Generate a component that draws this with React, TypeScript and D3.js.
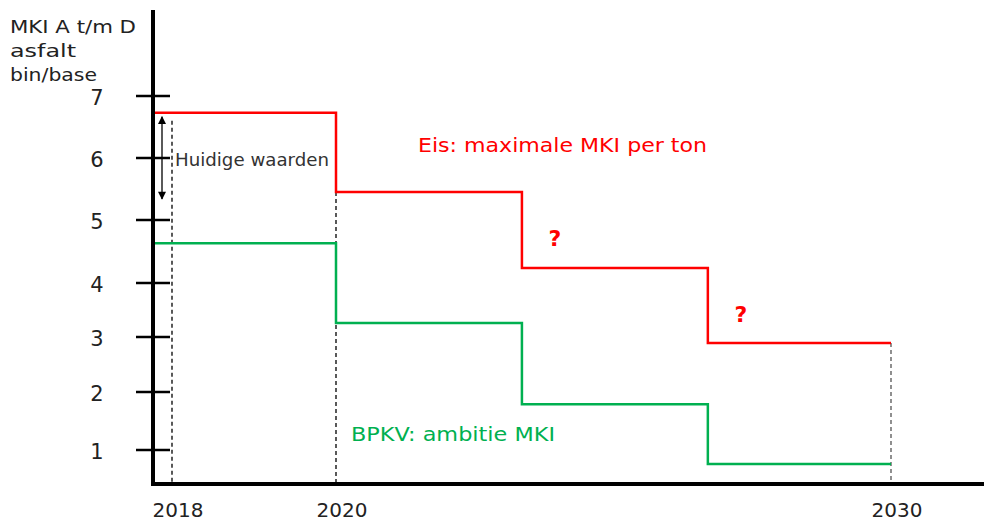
import React, { useEffect, useRef } from 'react';
import * as d3 from 'd3';

// y axis ticks and the (uneven) pixel spacing of the original drawing
const yTicks = [1, 2, 3, 4, 5, 6, 7];
const yTickPixels = [450, 392, 337, 283, 220, 158, 96];

// x axis labels and their positions in the drawing
const xLabels = [2018, 2020, 2030];
const xLabelPixels = [172, 336, 891];

// step lines (value holds from year until the next year)
const stepYears = [2017.77, 2020, 2023.35, 2026.7, 2030];
const eisValues = [6.73, 5.45, 4.24, 2.89, 2.89];
const ambitieValues = [4.63, 3.26, 1.79, 0.76, 0.76];

const FONT = '"DejaVu Sans", Verdana, sans-serif';

const App = () => {
  const svgRef = useRef<SVGSVGElement>(null);

  useEffect(() => {
    const width = 984;
    const height = 522;
    const axisX = 153;
    const axisY = 484;

    const svg = d3.select(svgRef.current);
    svg.selectAll('*').remove();
    svg.attr('width', width).attr('height', height);

    const x = d3.scaleLinear().domain(xLabels).range(xLabelPixels);
    const y = d3.scaleLinear().domain(yTicks).range(yTickPixels);

    const line = d3
      .line<number>()
      .x((_, i) => x(stepYears[i]))
      .y((d) => y(d))
      .curve(d3.curveStepAfter);

    // verdana-ish wide text: stretch DejaVu to the original widths
    const label = (
      tx: number,
      ty: number,
      str: string,
      size: number,
      color: string,
      len?: number
    ) => {
      const t = svg
        .append('text')
        .attr('x', tx)
        .attr('y', ty)
        .attr('font-family', FONT)
        .attr('font-size', size)
        .attr('fill', color)
        .text(str);
      if (len) t.attr('textLength', len).attr('lengthAdjust', 'spacingAndGlyphs');
      return t;
    };

    // dashed reference lines
    const dashed = [
      { year: 2018, top: y(eisValues[0]) + 8, color: '#000' },
      { year: 2020, top: y(eisValues[1]), color: '#000' },
      { year: 2030, top: y(eisValues[3]), color: '#555' },
    ];
    svg
      .selectAll('.dash')
      .data(dashed)
      .enter()
      .append('line')
      .attr('x1', (d) => x(d.year))
      .attr('x2', (d) => x(d.year))
      .attr('y1', (d) => d.top)
      .attr('y2', axisY)
      .attr('stroke', (d) => d.color)
      .attr('stroke-width', 1.3)
      .attr('stroke-dasharray', '4,3');

    // step lines
    svg
      .append('path')
      .attr('d', line(eisValues))
      .attr('fill', 'none')
      .attr('stroke', '#ff0000')
      .attr('stroke-width', 2.5);
    svg
      .append('path')
      .attr('d', line(ambitieValues))
      .attr('fill', 'none')
      .attr('stroke', '#00b050')
      .attr('stroke-width', 2.5);

    // axes
    svg
      .append('line')
      .attr('x1', axisX)
      .attr('x2', axisX)
      .attr('y1', 10)
      .attr('y2', axisY + 2)
      .attr('stroke', '#000')
      .attr('stroke-width', 4);
    svg
      .append('line')
      .attr('x1', axisX - 2)
      .attr('x2', width)
      .attr('y1', axisY)
      .attr('y2', axisY)
      .attr('stroke', '#000')
      .attr('stroke-width', 4);

    // y ticks crossing the axis
    svg
      .selectAll('.ytick')
      .data(yTicks)
      .enter()
      .append('line')
      .attr('x1', axisX - 17)
      .attr('x2', axisX + 17)
      .attr('y1', (d) => y(d))
      .attr('y2', (d) => y(d))
      .attr('stroke', '#000')
      .attr('stroke-width', 2.5);

    svg
      .selectAll('.ylabel')
      .data(yTicks)
      .enter()
      .append('text')
      .attr('x', 97)
      .attr('y', (d) => y(d) + 9)
      .attr('text-anchor', 'middle')
      .attr('font-family', FONT)
      .attr('font-size', 21)
      .attr('fill', '#222')
      .text((d) => d);

    svg
      .selectAll('.xlabel')
      .data(xLabels)
      .enter()
      .append('text')
      .attr('x', (d) => x(d) + 6)
      .attr('y', 517)
      .attr('text-anchor', 'middle')
      .attr('font-family', FONT)
      .attr('font-size', 20)
      .attr('fill', '#222')
      .text((d) => d);

    // axis title
    label(10, 33, 'MKI A t/m D', 18, '#222', 126);
    label(10, 57, 'asfalt', 18, '#222', 66);
    label(10, 81, 'bin/base', 18, '#222', 87);

    // double arrow "Huidige waarden"
    const defs = svg.append('defs');
    defs
      .append('marker')
      .attr('id', 'arr')
      .attr('viewBox', '0 0 10 10')
      .attr('refX', 9)
      .attr('refY', 5)
      .attr('markerWidth', 9)
      .attr('markerHeight', 8)
      .attr('orient', 'auto-start-reverse')
      .attr('markerUnits', 'userSpaceOnUse')
      .append('path')
      .attr('d', 'M0,0 L10,5 L0,10 Z')
      .attr('fill', '#000');
    svg
      .append('line')
      .attr('x1', 162)
      .attr('x2', 162)
      .attr('y1', y(eisValues[0]) + 4)
      .attr('y2', 199)
      .attr('stroke', '#000')
      .attr('stroke-width', 1.3)
      .attr('marker-start', 'url(#arr)')
      .attr('marker-end', 'url(#arr)');

    label(175, 166, 'Huidige waarden', 18, '#333', 154);

    // annotations
    label(418, 152, 'Eis: maximale MKI per ton', 20, '#ff0000', 289);
    [
      { x: 555, y: 246 },
      { x: 741, y: 322 },
    ].forEach((q) => {
      label(q.x, q.y, '?', 22, '#ff0000')
        .attr('text-anchor', 'middle')
        .attr('font-weight', 'bold');
    });
    label(351, 441, 'BPKV: ambitie MKI', 20, '#00b050', 204);
  }, []);

  return (
    <svg
      ref={svgRef}
      style={{ position: 'absolute', left: 0, top: 0, background: '#fff' }}
    ></svg>
  );
};

export default App;
